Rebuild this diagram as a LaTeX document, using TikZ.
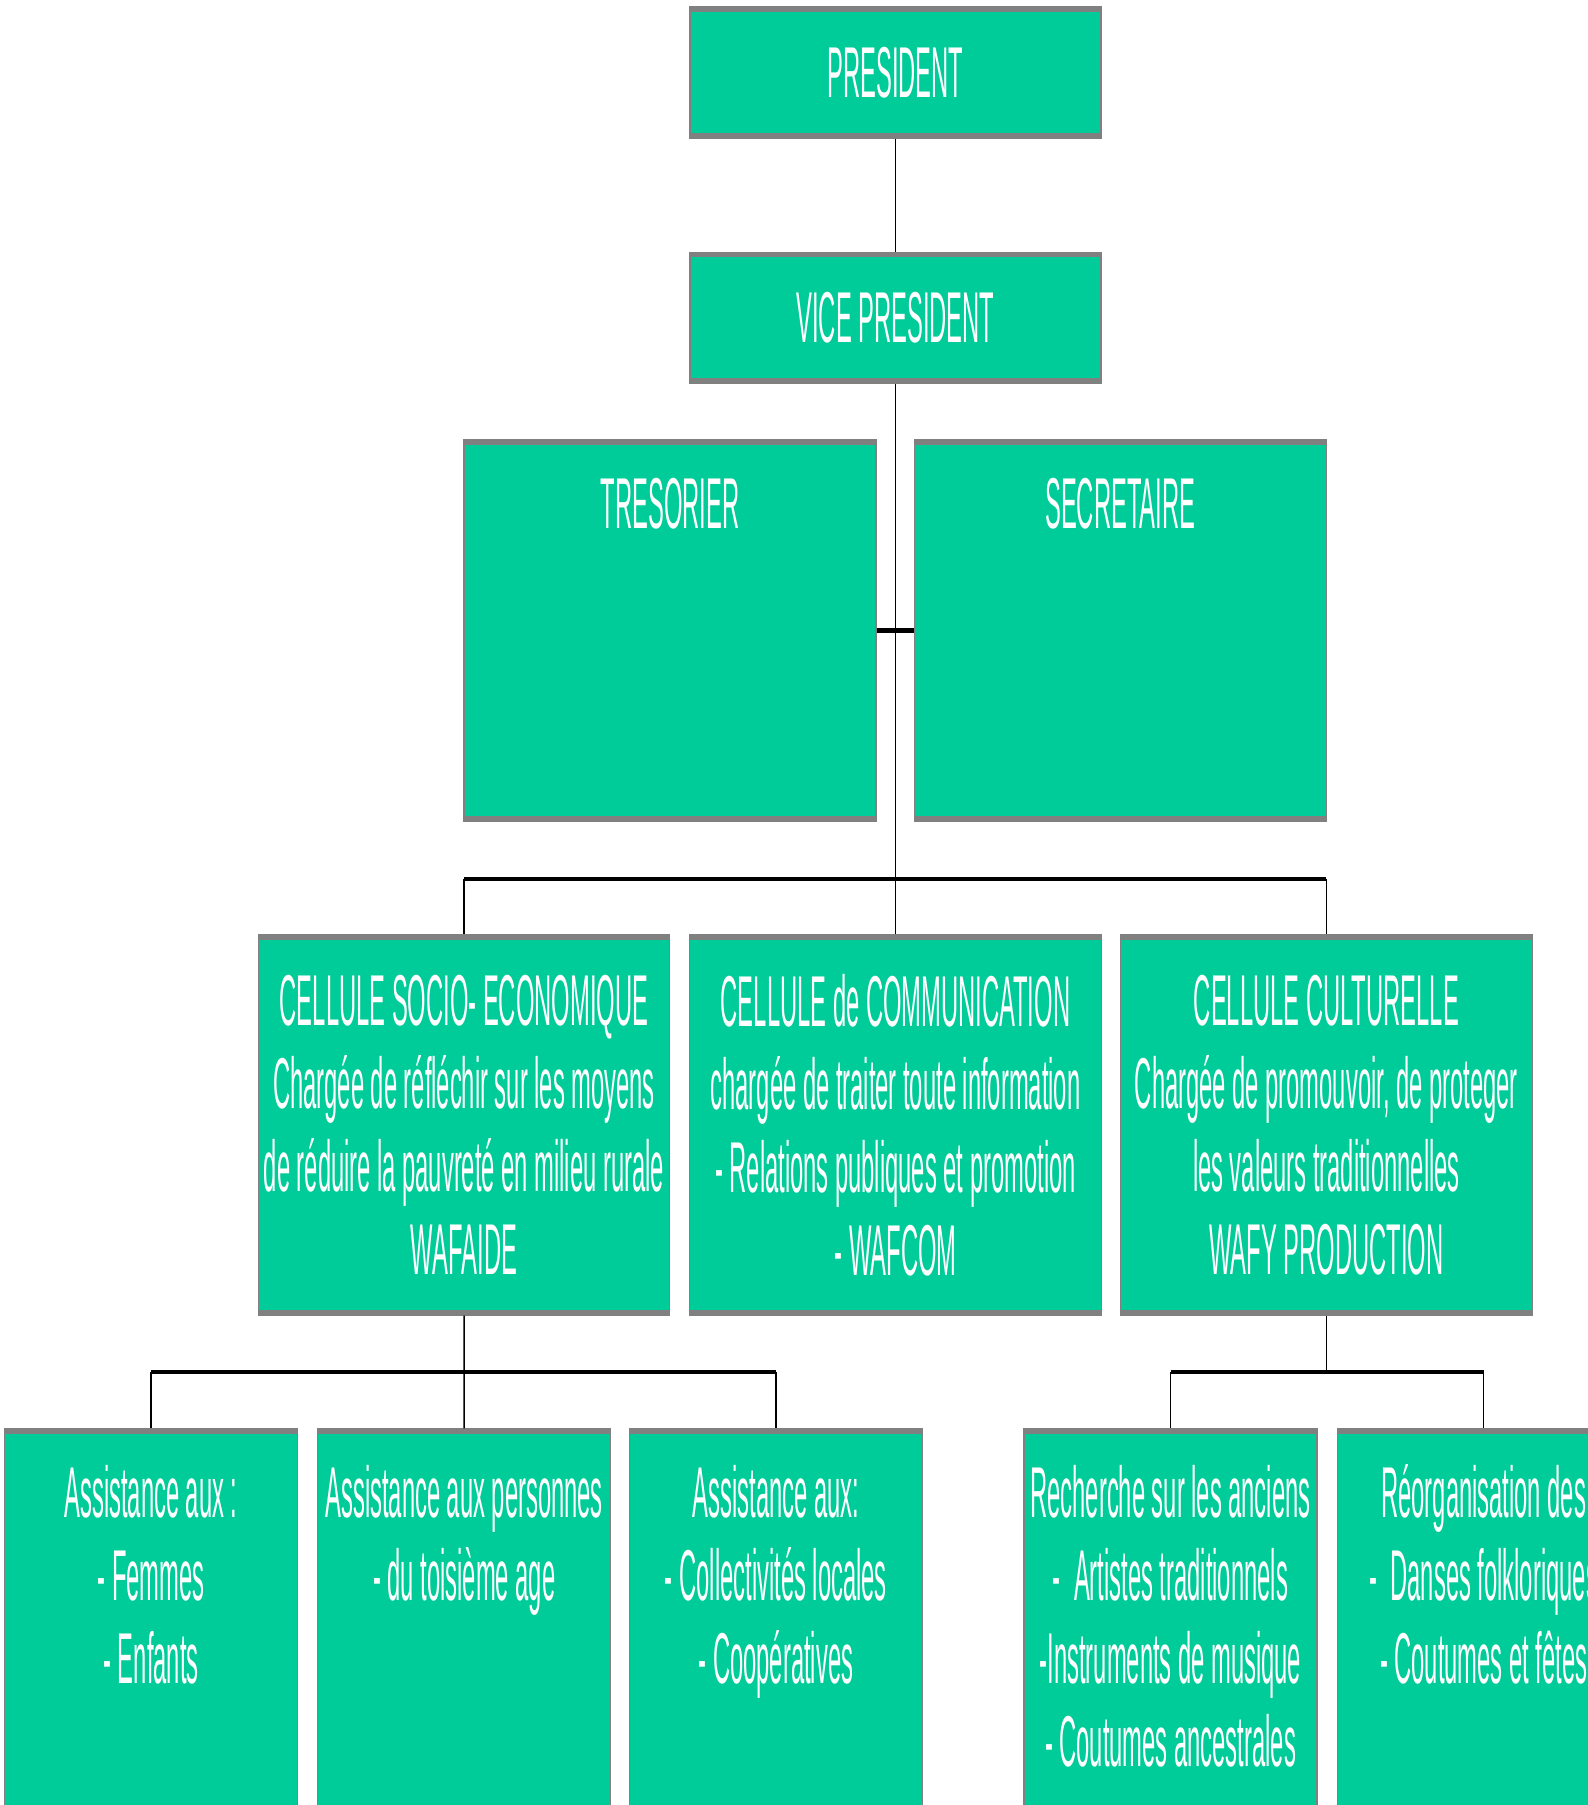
\documentclass[tikz,border=0pt]{standalone}
\usepackage{fontspec}
\setmainfont{Liberation Sans}[FakeStretch=0.33]
\usepackage{xcolor}
\usetikzlibrary{positioning}
\definecolor{cellgreen}{HTML}{00CC99}
\definecolor{rimgray}{HTML}{808080}
\newcommand{\topstrut}{\rule{0pt}{30pt}}

\begin{document}
\begin{tikzpicture}[
  x=0.5pt, y=-0.5pt,
  font=\fontsize{36}{41.5}\selectfont,
  box/.style   = {draw=rimgray, line width=0.6pt, fill=cellgreen, inner sep=0pt,
                  text=white, align=center,
                  path picture={\draw[rimgray, line width=5pt]
                    (path picture bounding box.north west) -- (path picture bounding box.north east)
                    (path picture bounding box.south west) -- (path picture bounding box.south east);}},
  head/.style  = {box, minimum width=205.5pt, minimum height=65.5pt},
  tall/.style  = {box, minimum width=206pt, minimum height=190.5pt},
  cell/.style  = {box, minimum width=205.75pt, minimum height=190pt},
  leaf/.style  = {box, minimum width=146.5pt, minimum height=235.5pt},
  txt/.style   = {text=white, align=center, inner sep=0pt, anchor=north},
  link/.style  = {black, line width=0.75pt},
  bar/.style   = {black, line width=2.2pt}
]
\useasboundingbox (0,0) rectangle (1588,1805);
\clip (0,0) rectangle (1588,1805);
%% Board
\node[head]                       (pres) at (895.5,72.5) {PRESIDENT};
\node[head, below=56.5pt of pres] (vp)   {VICE PRESIDENT};
\node[tall]                       (tres) at (670,630.5) {};
\node[tall, right=18.5pt of tres] (sec)  {};
%% Cells
\node[cell]                       (cse) at (464,1125)
  {CELLULE SOCIO- ECONOMIQUE\\Chargée de réfléchir sur les moyens\\de réduire la pauvreté en milieu rurale\\WAFAIDE};
\node[cell, right=9.4pt of cse]   (com)
  {CELLULE de COMMUNICATION\\chargée de traiter toute information\\- Relations publiques et promotion\\- WAFCOM};
\node[cell, right=9.1pt of com]   (cul)
  {CELLULE CULTURELLE\\Chargée de promouvoir, de proteger\\les valeurs traditionnelles\\WAFY PRODUCTION};
%% Activities
\node[leaf]                       (fem) at (151,1664.5) {};
\node[leaf, right=9.5pt of fem]   (age) {};
\node[leaf, right=8.75pt of age]  (col) {};
\node[leaf]                       (anc) at (1170.5,1664.5) {};
\node[leaf, right=9.5pt of anc]   (dan) {};
%% Top-aligned texts
\node[txt] (tres-t) at ([yshift=-14.5pt]tres.north) {\topstrut TRESORIER};
\node[txt] (sec-t)  at ([yshift=-14.5pt]sec.north)  {\topstrut SECRETAIRE};
\node[txt] (fem-t)  at ([yshift=-14.5pt]fem.north) {\topstrut Assistance aux :\\- Femmes\\- Enfants};
\node[txt] (age-t)  at ([yshift=-14.5pt]age.north) {\topstrut Assistance aux personnes\\- du toisième age};
\node[txt] (col-t)  at ([yshift=-14.5pt]col.north) {\topstrut Assistance aux:\\- Collectivités locales\\- Coopératives};
\node[txt] (anc-t)  at ([yshift=-14.5pt]anc.north)
  {\topstrut Recherche sur les anciens\\- \ Artistes traditionnels\\-Instruments de musique\\- Coutumes ancestrales};
\node[txt] (dan-t)  at ([yshift=-14.5pt]dan.north) {\topstrut Réorganisation des\\- \ Danses folkloriques\\- Coutumes et fêtes};
%% Hubs
\coordinate (hub)  at (895.5,879);
\coordinate (hubl) at (464,1372);
\coordinate (hubr) at (cul.south |- hubl);
%% Links
\draw[link] (pres) -- (vp);
\draw[link] (vp.south) -- (vp.south |- com.north);
\draw[bar]  (tres.east) -- (sec.west);
\draw[bar]  (cse.north |- hub) -- (cul.north |- hub);
\foreach \nd in {cse,cul}{
  \draw[link] (\nd.north |- hub) -- (\nd.north);}
\draw[link] (cse) -- (age);
\draw[bar]  (fem.north |- hubl) -- (col.north |- hubl);
\foreach \nd in {fem,col}{
  \draw[link] (\nd.north |- hubl) -- (\nd.north);}
\draw[link] (cul.south) -- (hubr);
\draw[bar]  (anc.north |- hubr) -- (dan.north |- hubr);
\foreach \nd in {anc,dan}{
  \draw[link] (\nd.north |- hubr) -- (\nd.north);}
\end{tikzpicture}
\end{document}
